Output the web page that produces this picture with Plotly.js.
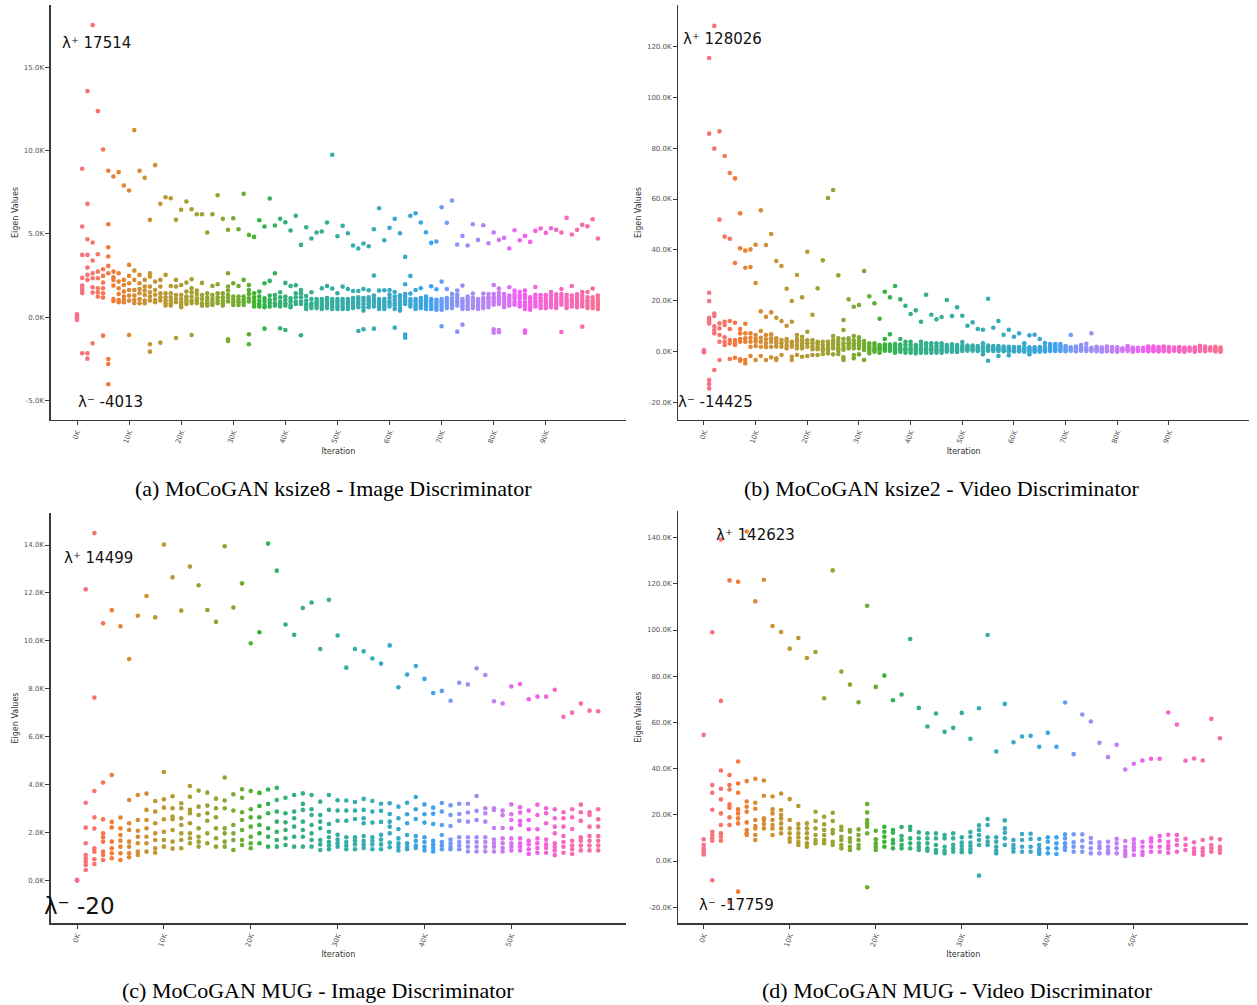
<!DOCTYPE html>
<html>
<head>
<meta charset="utf-8">
<script src="https://cdn.plot.ly/plotly-3.0.1.min.js"></script>
<style>html,body{margin:0;padding:0;background:#fff;}#chart{width:1257px;height:1005px;}</style>
</head>
<body>
<div id="chart"></div>
<script>
// ---------------- DATA ----------------
// Each inner list = eigenvalues recorded at one iteration (1K steps)
const aVals = [
[180,60,-60,-160],
[8900,5440,3740,2360,1900,1750,1600,1450,-2160],
[13560,6800,4680,3740,2980,2540,2240,-2160,-2480],
[17514,4480,3400,2640,2340,1800,1480,-1560],
[12360,3780,2740,2340,1740,1500,1240],
[10060,2880,2480,2080,1740,1440,1180,-1100],
[8780,5580,4200,3640,3080,2640,-2500,-2800,-4013],
[8440,2740,2400,2240,1900,1100,980],
[8700,2640,2140,1740,1400,1040,900],
[7900,2240,1940,1540,1250,1040,900],
[7600,3140,2480,2040,1640,1300,1000,-1060],
[11220,2800,2240,1640,1300,1040,850],
[8780,2540,2040,1700,1440,1100,840],
[8360,2240,1840,1600,1340,1000,840],
[5840,2640,2440,1840,1500,1240,1000,-1620,-2060],
[9120,2140,1640,1350,1040,900],
[6800,2240,1840,1440,1200,1000,-1520],
[7200,2540,1440,1200,1000,840,700],
[7140,1880,1440,1200,1000,840,700],
[5840,2240,1840,1340,1100,900,-1240],
[6440,1940,1340,1100,900,740,600],
[6940,2080,1540,1250,1100,940,800],
[6480,2280,1740,1500,1240,1000,850,-1060],
[6180,1600,1400,1140,1000,850],
[6180,2060,1340,1100,840,700],
[5080,1440,1200,1000,840,700],
[6180,1880,1340,1100,900,740],
[7320,1980,1440,1200,1000,840],
[5900,1440,1200,1000,840,700],
[5240,2640,1840,1600,1340,1150,950,-1320,-1420],
[5940,2040,1240,1050,900,740],
[5280,1880,1240,1050,900,740],
[7400,2240,1240,1050,900,740],
[4940,1940,1640,1400,1140,950,-1020,-1620],
[4820,1440,1200,1000,840,650],
[5820,1540,1240,1000,800,640],
[5440,2040,1140,950,740,600,-680],
[7120,2180,1300,1040,850,640],
[5500,2640,1340,1100,840,700],
[5900,1500,1200,940,800,650,-660],
[5700,2060,1240,1050,840,700,-760],
[5200,1880,1140,950,740,600],
[6080,1920,1440,1200,940,800],
[4340,1640,1440,1200,940,800,-1080],
[5400,1280,1000,800,640,500],
[4720,1500,1100,840,700,550],
[5080,1100,950,840,700,550],
[5140,1740,1100,950,800,650,500],
[5680,1880,1150,1000,850,700,550],
[9740,1720,1100,950,800,650,500],
[4860,1440,1100,950,800,650,500],
[5480,1840,1100,950,800,650,500],
[5040,1700,1100,950,800,650,500],
[4300,1580,1150,1000,850,700,550],
[4120,1580,1200,1050,900,750,600,-820],
[4420,1700,1150,1000,800,600,400,-720],
[4260,1620,1200,1050,900,750,600],
[5280,2500,1300,1100,950,800,650,-680],
[6540,1600,1100,950,800,650,500],
[4620,1620,1100,950,800,650,500],
[5360,1640,1360,1150,950,800,650],
[5900,1520,1250,1050,850,700,500,-620],
[5040,1320,1150,950,750,550,400],
[3620,1980,1400,1250,1100,950,800,-1040,-1220],
[6080,2480,1420,1100,950,800,650],
[6240,1640,1100,950,800,650,500],
[5680,1740,1150,1000,850,700,550],
[5100,1240,1100,950,800,650,500],
[4460,1860,1100,950,800,650,500],
[4540,1680,1050,900,750,600,450],
[6600,2140,1100,950,800,650,450,-540],
[5660,1700,1150,1000,850,700,550],
[7000,1400,1150,1000,850,700,550],
[4360,1600,1350,1200,1000,850,700,-860],
[4880,1900,1100,950,800,650,500,-440],
[4300,1250,1100,950,800,650,500],
[5580,1420,1150,1000,850,700,550],
[4640,1100,950,800,650,500],
[5520,1420,1150,1000,850,700,550],
[4440,1400,1200,1050,900,750,600],
[5080,1940,1400,1200,1050,900,750,-720,-920],
[4640,1720,1450,1250,1100,950,800,-760,-900],
[4760,1400,1200,1050,900,750,600],
[4120,1800,1300,1150,1000,850,700],
[5220,1600,1400,1250,1100,900,750],
[4620,1520,1300,1150,950,800,650],
[4880,1600,1350,1150,900,700,500,-800,-920],
[4520,1200,1050,900,750,600,450],
[5180,1820,1350,1150,950,800,650],
[5320,1340,1150,1000,850,700,550],
[5060,1340,1150,1000,850,700,550],
[5340,1520,1300,1100,900,750,600],
[5240,1380,1200,1000,850,700,550],
[5080,1700,1400,1200,1050,900,750,-880],
[5960,1350,1150,1000,850,700,550],
[4960,1880,1300,1100,950,800,650],
[5240,1380,1200,1050,900,750,600],
[5540,1520,1300,1100,950,800,650,-560],
[5460,1520,1200,1000,850,700,550],
[5880,1720,1200,1000,850,700,550],
[4720,1300,1100,950,800,650,500]
];

const bVals = [
[600,300,0,-300],
[115400,85670,23190,19910,13300,12450,11800,11100,-11140,-12700,-14425],
[128026,79780,15000,14000,10000,8500,7200,-7200],
[86590,51880,11135,9170,6550,3930,-3275],
[76900,45200,11790,10480,5630,3930,2620],
[70200,44400,12050,8900,4585,3275,-2880],
[68100,34850,11400,4585,3500,2620,-2360],
[54365,40610,8900,7200,5000,3930,-3010,-3540],
[39700,33000,11000,7200,5240,3930,-3275,-4585],
[40200,33270,7200,5500,3930,1965,-1700],
[42050,26990,6550,5000,3930,2230,-3275],
[55540,15850,8120,5500,3930,1965,-1700],
[41920,13750,6550,4900,3275,1800,-3275],
[46240,15460,6810,5300,3930,1965,-2230],
[35630,13360,5240,4200,3275,2000,-2620,-3275],
[33670,12050,4585,3300,1965,-1310],
[24760,10220,5000,3930,2500,1310],
[19910,11790,3930,3000,1965,-1965,-3275],
[30130,6550,5000,3930,2500,1310,-1310],
[21350,5900,4500,3275,2300,1310,-1965],
[39300,7860,4500,3275,1965,-1700],
[14540,4585,3300,1965,1000,-1310],
[24890,3930,3000,1965,1000,-1310],
[35890,3930,2600,1310,500,-917],
[60390,3930,2600,1310,500,-655],
[63535,6157,4500,3275,2200,1310,-1048],
[30000,5240,3900,2620,1310,400,-917],
[12445,8515,5000,3275,1965,800,-2230,-3275],
[20570,5240,4200,3275,2300,1310],
[17685,6160,4500,3275,2300,1310,-1310,-2620],
[18340,5630,4300,3275,2300,1310,-1048],
[31700,4190,3000,1965,655,-3275],
[21750,3275,2300,1310,400,-655],
[19000,3275,2300,1310,600,0],
[12970,2600,1965,1200,655,-393],
[23580,4980,2800,1965,1200,393],
[21350,6810,2800,1965,1200,393],
[25800,3010,2200,1310,600,-393],
[20570,4980,2800,1965,1000,0],
[18080,3930,2600,1310,600,-393],
[14800,3930,2600,1310,600,-393],
[16240,2600,1965,1200,393,-655],
[11790,3930,2600,1310,600,-393],
[22400,3275,2300,1310,600,-393],
[14540,3275,2300,1310,600,-393],
[12700,3275,2100,917,300,-393],
[13620,3275,2300,1310,600,-393],
[20300,2620,1800,1100,655,0],
[14020,2880,2000,1310,600,0],
[17420,2600,1800,1100,500,-100],
[14150,3800,2300,1500,900,300],
[10220,2400,1700,1000,400],
[11530,2400,1700,1000,400],
[8900,2200,1500,900,300],
[8650,3275,2000,1300,700,100,-1048],
[20830,2400,1700,1000,400,-3540],
[9430,2200,1500,900,300],
[12050,2200,1500,900,300,-1700],
[6680,2000,1300,700,200],
[8650,1900,1200,600,100,-1440],
[5900,1800,1200,600,100],
[7200,1800,1200,600,100],
[3275,1800,1200,600,0],
[6420,1700,1100,500,-100,-1048],
[6680,1700,1100,500,0],
[4980,1800,1100,500,0],
[3400,1800,1200,600,100],
[3010,2300,1600,900,300],
[3010,2300,1600,900,300],
[3010,2300,1600,900,300],
[2200,1500,800,200],
[6550,1700,1000,400],
[2000,1300,700,200],
[2620,1700,1000,400],
[3140,1600,900,300],
[7200,1500,900,300],
[1900,1300,700,200],
[1700,1100,500,0],
[2000,1400,800,200],
[1800,1200,600,100],
[1700,1100,500,0],
[1300,800,300],
[2200,1500,900,300],
[1600,1000,400,0],
[1500,900,300],
[1500,900,300],
[2000,1400,800,200],
[2000,1400,800,200],
[1800,1200,600,100],
[2000,1400,800,200],
[1800,1200,600,100],
[1600,1000,400],
[1800,1200,600,100],
[1600,1000,400,0],
[1600,1000,400],
[1700,1100,500,0],
[2300,1600,900,300],
[2000,1400,800,200],
[1700,1100,500],
[1900,1300,700,100],
[1600,1000,400,0]
];

const cVals = [
[20,0,-20],
[12150,3240,2200,1545,1058,920,780,640,430],
[14499,7630,3730,2630,2160,1336,1197,877,682],
[10730,4080,2550,1960,1800,1615,1197,1058,850],
[11280,4400,2440,2210,1615,1336,1128,919],
[10610,2620,2170,1890,1656,1406,1128,850],
[9240,3355,2380,2100,1615,1406,1128,960],
[11050,3563,2520,2070,1820,1545,1197,1058],
[11870,3620,2940,2520,2170,1820,1545,1197],
[10980,3310,2870,2380,1960,1684,1336,1155],
[14020,4520,3380,3035,2550,2030,1684,1406],
[12650,3510,3010,2660,2550,2100,1615,1322],
[11260,3215,3010,2590,2310,1960,1684,1336],
[13100,3940,3490,2940,2800,2380,1960,1754,1545],
[12320,3745,3076,2730,2170,1820,1615,1406],
[11290,3660,3120,2800,2490,1960,1545],
[10790,3410,3010,2630,2170,1754,1406],
[13950,4290,3330,3010,2170,1960,1615,1406],
[11390,3590,2910,2310,1960,1684,1267],
[12400,3800,3450,2840,2520,2100,1684,1475],
[9900,3730,2965,2630,2240,1820,1545,1336],
[10360,3650,3100,2630,2310,1960,1545],
[14060,3790,3190,2800,2170,1820,1406],
[12930,3860,3355,2870,2450,2030,1684,1406],
[10680,3450,2800,2420,2100,1754,1475],
[10250,3560,2870,2590,2240,1820,1406],
[11370,3630,3190,2940,2450,2100,1820,1406],
[11600,3560,2965,2730,2310,1960,1684,1406],
[9660,3285,2730,2450,2170,1684,1500,1267],
[11710,3560,2940,2350,2030,1800,1600,1450,1300],
[10220,3340,2910,2490,1900,1700,1550,1400],
[8880,3330,2910,2490,1796,1600,1450,1300],
[9660,3270,2910,2560,1800,1650,1500,1300],
[9560,3400,2940,2590,2380,1850,1650,1500,1350],
[9260,3310,2870,2410,1800,1650,1500,1300],
[9050,3200,2900,2440,1900,1700,1500,1300],
[9810,3215,2770,2450,2240,1960,1573,1378],
[8060,3076,2590,2140,1750,1550,1400,1250],
[8590,3240,2760,2380,1893,1550,1400,1300],
[8950,3480,2965,2560,1850,1650,1450,1350],
[8410,3170,2760,2410,1800,1600,1400,1250],
[7820,3035,2780,2350,1650,1500,1350,1200],
[7910,3230,2870,2310,1893,1600,1450,1300],
[7500,3130,2730,2270,1700,1550,1400,1300],
[8250,3200,2770,2490,1800,1600,1450,1300],
[8180,3200,2830,2450,1800,1600,1400,1200],
[8850,3520,2900,2520,1800,1600,1400,1200],
[8570,3010,2800,2450,1800,1600,1400,1200],
[7475,3010,2940,2185,1700,1550,1400,1200],
[7380,2910,2715,2185,1750,1550,1350,1200],
[8090,3170,2760,2520,2170,1750,1550,1400,1250],
[8200,3050,2830,2480,2310,1750,1550,1400,1250],
[7560,2910,2520,2130,1650,1500,1300,1100],
[7670,3160,2730,2130,1750,1550,1350,1150],
[7670,3010,2800,2380,1700,1500,1350,1150],
[7960,2965,2590,2240,1960,1550,1400,1250,1050],
[6830,2840,2590,2240,1850,1600,1400,1150],
[7000,2965,2630,2140,1650,1450,1300,1100],
[7380,3160,2840,2480,1800,1650,1450,1250],
[7085,2840,2730,2240,1850,1650,1450,1250],
[7060,2965,2550,2240,1850,1650,1450,1250]
];

const dVals = [
[54600,9400,7000,5500,4500,3500,2800],
[99000,32850,29540,22190,12680,11240,9800,8790,-8360],
[139200,69300,39200,31270,26660,20600,15560,11960,10520,8790],
[121480,37180,32850,30980,24500,23060,18880,15560,-17759],
[120900,43090,33570,29540,22340,20600,18440,16280,-13260],
[142623,34580,25790,23490,21330,16720,13400,11960,11240],
[112400,35600,25220,22620,17720,15130,14120,11240,9080],
[121760,34870,28240,18440,17720,16000,14120],
[101730,27950,22340,20600,17720,15560,14120,11240],
[99140,29250,22050,19890,18440,16280,14120,11960],
[91940,26800,17720,14120,11960,9800,8360],
[96550,23780,16000,14120,11960,10230,8360,6920],
[87900,16280,14120,11960,9800,7640,6200],
[90500,21330,17290,14120,11240,9080,7640],
[70460,19160,15850,13400,11240,9080,7640],
[125800,20900,17290,13400,11960,8360,6920],
[82000,14840,13400,10520,9080,6920,5480],
[76370,13400,12680,9800,8360,6200,4760],
[68740,13690,11240,9080,6920,5480],
[110520,24640,21040,17720,16280,14840,11960,-11380],
[75360,13110,9370,7640,6200,4760],
[80260,14840,12680,10520,8360,6200],
[69600,13400,12250,9080,7640,5480],
[72050,14700,10810,9080,6920,5480],
[96110,14840,13400,9800,7640,5480],
[66290,12390,9800,7640,6200,4760],
[58220,11960,9800,7640,5480,4470],
[63840,11960,9800,6920,4760,3600],
[55910,11240,9800,6200,4470,3310],
[57640,11960,9800,7000,5500,4000],
[64120,10230,8000,6500,5000,3800],
[52880,12540,10520,8000,6500,5000,3800],
[66140,15420,13400,11240,9080,6920,-6340],
[97840,18160,15560,10230,8360,6920],
[47410,10230,8360,6200,4500,3310],
[68020,17580,14120,12250,9800,6920],
[51440,9080,6920,5500,4030],
[53890,11670,9080,6200,4030],
[54180,11820,9510,6200,4030],
[49430,9510,6920,5200,4030,3030],
[55480,10230,8360,5480,3310],
[49430,10230,7640,5480,3030],
[68590,11530,9800,7640,6000,4760],
[46260,11530,8070,6200,4030],
[63400,11530,8790,6200,4030],
[60380,9940,7930,5480,3310],
[51160,8070,6500,5480,3310],
[44960,8360,6200,4500,3310],
[50290,9650,7640,5480,3310],
[39630,8650,6200,4500,3310,2160],
[42080,9370,7640,6000,4760,2590],
[43520,8360,6200,4030,2590],
[44240,9800,8360,6200,4030],
[44240,10810,8790,6200,4030],
[64270,11380,8360,6500,5480,3600],
[59080,11240,9080,6920,4030],
[43370,9650,6920,4760],
[44380,8070,5480,4000,3030],
[43520,9080,5480,4000,2590],
[61530,9800,6920,5500,4030],
[53170,9370,6200,5000,3600]
];

// Tick labels
const abTickPos = [0,10,20,30,40,50,60,70,80,90];
const abTickText = ['0K','10K','20K','30K','40K','50K','60K','70K','80K','90K'];
const cdTickPos = [0,10,20,30,40,50];
const cdTickText = ['0K','10K','20K','30K','40K','50K'];
const aYTicks = [-5000,0,5000,10000,15000];
const aYText = ['-5.0K','0.0K','5.0K','10.0K','15.0K'];
const bYTicks = [-20000,0,20000,40000,60000,80000,100000,120000];
const bYText = ['-20.0K','0.0K','20.0K','40.0K','60.0K','80.0K','100.0K','120.0K'];
const cYTicks = [0,2000,4000,6000,8000,10000,12000,14000];
const cYText = ['0.0K','2.0K','4.0K','6.0K','8.0K','10.0K','12.0K','14.0K'];
const dYTicks = [-20000,0,20000,40000,60000,80000,100000,120000,140000];
const dYText = ['-20.0K','0.0K','20.0K','40.0K','60.0K','80.0K','100.0K','120.0K','140.0K'];

const captions = ['(a) MoCoGAN ksize8 - Image Discriminator','(b) MoCoGAN ksize2 - Video Discriminator',
                  '(c) MoCoGAN MUG - Image Discriminator','(d) MoCoGAN MUG - Video Discriminator'];
const lamPlus = ['17514','128026','14499','142623'];
const lamMinus = ['-4013','-14425','-20','-17759'];

// ---------------- HUSL palette (seaborn husl_palette) ----------------
const M = [[3.240969941904521,-1.537383177570093,-0.498610760293],
           [-0.96924363628087,1.87596750150772,0.041555057407175],
           [0.055630079696993,-0.20397695888897,1.056971514242878]];
function getBounds(L){
  const res=[]; const sub1=Math.pow(L+16,3)/1560896;
  const sub2 = sub1>0.0088564516 ? sub1 : L/903.2962962;
  for(const [m1,m2,m3] of M){ for(const t of [0,1]){
    const top1=(284517*m1-94839*m3)*sub2;
    const top2=(838422*m3+769860*m2+731718*m1)*L*sub2-769860*t*L;
    const bottom=(632260*m3-126452*m2)*sub2+126452*t;
    res.push([top1/bottom, top2/bottom]); } }
  return res;
}
function maxChroma(L,H){
  const hr=H/360*Math.PI*2; let mn=Infinity;
  for(const [s,i] of getBounds(L)){ const len=i/(Math.sin(hr)-s*Math.cos(hr)); if(len>=0) mn=Math.min(mn,len); }
  return mn;
}
function husl(H,S,L){
  const C=maxChroma(L,H)/100*S; const hr=H/360*2*Math.PI;
  const U=Math.cos(hr)*C, V=Math.sin(hr)*C;
  const vu=U/(13*L)+0.19783000664283, vv=V/(13*L)+0.46831999493879;
  const Y = L<=8 ? L/903.2962962 : Math.pow((L+16)/116,3);
  const X = -(9*Y*vu)/((vu-4)*vv - vu*vv);
  const Z = (9*Y-15*vv*Y-vv*X)/(3*vv);
  const rgb = M.map(r=>{ let c=r[0]*X+r[1]*Y+r[2]*Z; c = c<=0.0031308?12.92*c:1.055*Math.pow(c,1/2.4)-0.055; return Math.round(Math.max(0,Math.min(1,c))*255); });
  return 'rgb('+rgb.join(',')+')';
}
function palette(n){ const out=[]; for(let i=0;i<n;i++){ const h=(i/n+0.01)%1; out.push(husl(h*359, 0.9*99, 0.65*99)); } return out; }

// ---------------- BUILD ----------------
function stripTrace(vals, xa, ya){
  const pal = palette(vals.length);
  const x=[], y=[], col=[];
  vals.forEach((list,k)=>{ list.forEach(v=>{ x.push(k); y.push(v); col.push(pal[k]); }); });
  return {type:'scatter', mode:'markers', x:x, y:y, xaxis:xa, yaxis:ya,
          marker:{size:4.6, color:col, line:{width:0}}, hoverinfo:'y', showlegend:false, cliponaxis:false};
}
const W=1257, H=1005;
const px = v=>v/W, py = v=>1-v/H;

const data = [stripTrace(aVals,'x','y'), stripTrace(bVals,'x2','y2'), stripTrace(cVals,'x3','y3'), stripTrace(dVals,'x4','y4')];

const axCol='#3a3a3a';
const titleFont = {family:'DejaVu Sans', size:8, color:'#333'};
function xax(domain, range, tv, tt, anchor){
  return {domain:domain, range:range, anchor:anchor, tickmode:'array', tickvals:tv, ticktext:tt, tickangle:-70,
    showline:true, linecolor:axCol, linewidth:1.3, ticks:'outside', ticklen:4, tickwidth:1, tickcolor:axCol,
    tickfont:{family:'DejaVu Sans', size:7, color:'#555'}, showgrid:false, zeroline:false,
    title:{text:'Iteration', font:titleFont, standoff:4}, automargin:false};
}
function yax(domain, range, tv, tt, anchor){
  return {domain:domain, range:range, anchor:anchor, tickmode:'array', tickvals:tv, ticktext:tt,
    showline:true, linecolor:axCol, linewidth:1.3, ticks:'outside', ticklen:4, tickwidth:1, tickcolor:axCol,
    tickfont:{family:'DejaVu Sans', size:7, color:'#555'}, showgrid:false, zeroline:false,
    title:{text:'Eigen Values', font:titleFont, standoff:4}, automargin:false};
}
const layout = {
  width:W, height:H, margin:{l:0,r:0,t:0,b:0}, paper_bgcolor:'#fff', plot_bgcolor:'#fff', showlegend:false,
  xaxis: xax([px(50.7),px(626)], [-5.05,105.4], abTickPos, abTickText, 'y'),
  yaxis: yax([py(420),py(5)], [-6157,18720], aYTicks, aYText, 'x'),
  xaxis2: xax([px(678.3),px(1249)], [-4.97,105.5], abTickPos, abTickText, 'y2'),
  yaxis2: yax([py(420),py(5)], [-26840,136230], bYTicks, bYText, 'x2'),
  xaxis3: xax([px(50.7),px(626)], [-3.03,63.2], cdTickPos, cdTickText, 'y3'),
  yaxis3: yax([py(923.3),py(512.7)], [-1795,15350], cYTicks, cYText, 'x3'),
  xaxis4: xax([px(678.3),px(1248.3)], [-2.95,63.3], cdTickPos, cdTickText, 'y4'),
  yaxis4: yax([py(923.3),py(510.7)], [-26970,151650], dYTicks, dYText, 'x4'),
  annotations: []
};
const ann = layout.annotations;
function addText(txt, x, y, opts){
  ann.push(Object.assign({text:txt, xref:'paper', yref:'paper', x:px(x), y:py(y), showarrow:false,
    xanchor:'center', yanchor:'middle', font:{family:'DejaVu Sans', size:8, color:'#333'}}, opts||{}));
}
// lambda labels (Unicode superscript signs)
const lp = [[60,43],[681,39],[62,558],[714,535]];
const lm = [[76,402],[676,402],[42,906],[697,905]];
const lmSize=[15,15,23,15];
for(let i=0;i<4;i++){
  addText('λ\u207A ' + lamPlus[i], lp[i][0], lp[i][1], {xanchor:'left', font:{family:'DejaVu Sans', size:15, color:'#111'}});
  addText('λ\u207B ' + lamMinus[i], lm[i][0], lm[i][1], {xanchor:'left', font:{family:'DejaVu Sans', size:lmSize[i], color:'#111'}});
}
// captions
[[333,488],[941,488],[318,990],[957,990]].forEach((p,i)=>addText(captions[i], p[0], p[1], {font:{family:'Liberation Serif', size:22, color:'#000'}}));

Plotly.newPlot('chart', data, layout, {staticPlot:true, displayModeBar:false});
</script>
</body>
</html>
